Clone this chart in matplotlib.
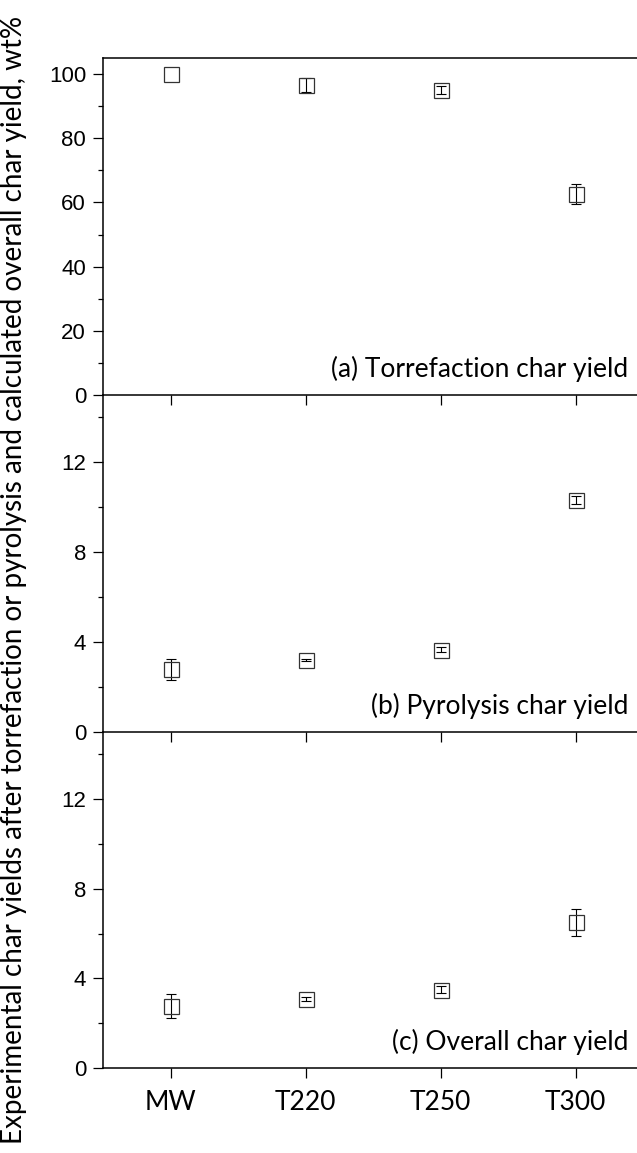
import numpy as np
from matplotlib import pyplot as plt
from matplotlib.ticker import MultipleLocator

samples = ["MW", "T220", "T250", "T300"]

torrefaction_yield = [100.0, 96.6, 95.0, 62.6]
torrefaction_err = [0.0, 2.1, 1.3, 3.1]

pyrolysis_yield = [2.79, 3.2, 3.67, 10.33]
pyrolysis_err = [0.48, 0.05, 0.10, 0.17]

overall_yield = [2.77, 3.06, 3.50, 6.51]
overall_err = [0.52, 0.09, 0.16, 0.60]

panels = [
    (torrefaction_yield, torrefaction_err, "(a) Torrefaction char yield", 105, 20, 10),
    (pyrolysis_yield, pyrolysis_err, "(b) Pyrolysis char yield", 15, 4, 2),
    (overall_yield, overall_err, "(c) Overall char yield", 15, 4, 2),
]

text_font = "Lato"
num_font = "Liberation Sans"

W, H = 637, 1153
fig = plt.figure(figsize=(W / 100, H / 100), dpi=100)

left = 103 / W
width = 540 / W
edges = [58, 395, 732, 1068]

x = np.arange(len(samples))
for i, (vals, errs, label, ytop, major, minor) in enumerate(panels):
    top_px, bot_px = edges[i], edges[i + 1]
    ax = fig.add_axes([left, 1 - bot_px / H, width, (bot_px - top_px) / H])
    ax.patch.set_visible(False)
    vals = np.array(vals)
    errs = np.array(errs)
    has_err = errs > 0
    ax.errorbar(
        x[has_err], vals[has_err], yerr=errs[has_err], fmt="none",
        ecolor="black", elinewidth=0.8, capsize=3.6, capthick=0.8,
    )
    ax.plot(x, vals, "s", markersize=10.8, markerfacecolor="none",
            markeredgecolor="#333333", markeredgewidth=0.9)
    ax.set_xlim(-0.5, 3.5)
    ax.set_ylim(0, ytop)
    ax.yaxis.set_major_locator(MultipleLocator(major))
    ax.yaxis.set_minor_locator(MultipleLocator(minor))
    ax.set_xticks(x)
    for s in ["top", "bottom", "left"]:
        ax.spines[s].set_linewidth(1.1)
    ax.spines["right"].set_visible(False)
    if i > 0:
        ax.spines["top"].set_visible(False)
    ax.tick_params(axis="both", which="major", direction="out", length=7.2,
                   width=0.9, pad=5)
    ax.tick_params(axis="y", which="minor", direction="out", length=3.6,
                   width=0.9)
    for t in ax.get_yticklabels():
        t.set_fontfamily(num_font)
        t.set_fontsize(16)
    if i == 2:
        ax.set_xticklabels(samples, fontfamily=text_font, fontsize=19)
        ax.tick_params(axis="x", pad=9)
    else:
        ax.set_xticklabels([])
    ax.text(0.972, 0.038, label, transform=ax.transAxes, ha="right",
            va="bottom", fontfamily=text_font, fontsize=19)

fig.text(14 / W, 0.497,
         "Experimental char yields after torrefaction or pyrolysis and "
         "calculated overall char yield, wt%",
         rotation=90, ha="center", va="center",
         fontfamily=text_font, fontsize=20)

fig.savefig("out.png", dpi=100)
